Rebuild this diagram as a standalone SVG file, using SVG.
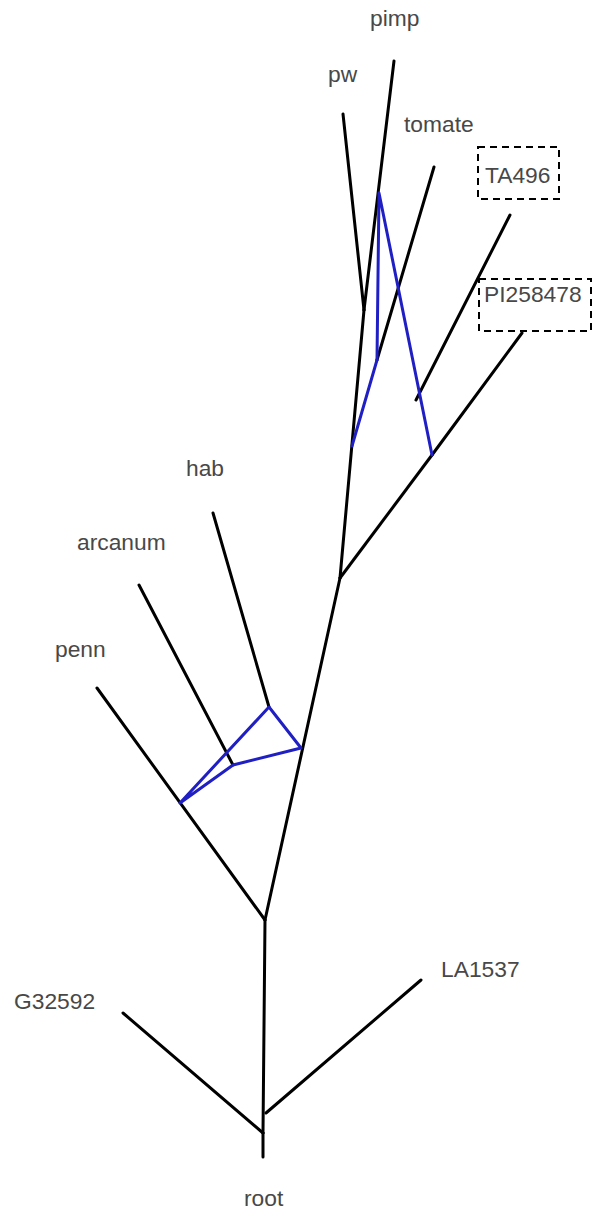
<svg xmlns="http://www.w3.org/2000/svg" width="593" height="1217" viewBox="0 0 593 1217">
<style>
.e{stroke:#000;stroke-width:3;fill:none;stroke-linecap:round;stroke-linejoin:round}
.h{stroke:#1f1fc4;stroke-width:3;fill:none;stroke-linecap:round;stroke-linejoin:round}
.t{font-family:"Liberation Sans",Arial,sans-serif;font-size:22.8px;fill:#484848}
.b{fill:none;stroke:#000;stroke-width:2;stroke-dasharray:7,5}
</style>
<rect width="593" height="1217" fill="#fff"/>
<g id="connectors">
<line class="e" x1="263" y1="1157" x2="263" y2="1133"/>
<line class="e" x1="263" y1="1133" x2="123" y2="1013"/>
<line class="e" x1="263" y1="1133" x2="265" y2="920"/>
<line class="e" x1="266" y1="1113" x2="421" y2="980"/>
<line class="e" x1="265" y1="920" x2="97" y2="688"/>
<line class="e" x1="265" y1="920" x2="340" y2="578"/>
<line class="e" x1="340" y1="578" x2="364" y2="310"/>
<line class="e" x1="340" y1="578" x2="432" y2="455"/>
<line class="e" x1="432" y1="455" x2="522" y2="333"/>
<line class="e" x1="416" y1="400" x2="510" y2="215"/>
<line class="e" x1="377" y1="360" x2="434" y2="167"/>
<line class="e" x1="364" y1="310" x2="343" y2="114"/>
<line class="e" x1="364" y1="310" x2="394" y2="61"/>
<line class="e" x1="269" y1="707" x2="213" y2="513"/>
<line class="e" x1="233" y1="765" x2="139" y2="585"/>
<polyline class="h" points="377,360 379,193 432,455"/>
<line class="h" x1="377" y1="360" x2="352" y2="446"/>
<polyline class="h" points="180,803 269,707 301,748 233,765 180,803"/>
</g>
<g id="root"><text class="t" x="244" y="1206">root</text></g>
<g id="G32592"><text class="t" x="14" y="1009">G32592</text></g>
<g id="LA1537"><text class="t" x="441" y="977">LA1537</text></g>
<g id="penn"><text class="t" x="55" y="657">penn</text></g>
<g id="arcanum"><text class="t" x="77" y="550">arcanum</text></g>
<g id="hab"><text class="t" x="186" y="476">hab</text></g>
<g id="pw"><text class="t" x="328" y="82">pw</text></g>
<g id="pimp"><text class="t" x="370" y="26">pimp</text></g>
<g id="tomate"><text class="t" x="404" y="132">tomate</text></g>
<g id="TA496"><rect class="b" x="478" y="147" width="81" height="52"/><text class="t" x="485" y="183">TA496</text></g>
<g id="PI258478"><rect class="b" x="479" y="279" width="112" height="52"/><text class="t" x="484" y="302">PI258478</text></g>
</svg>
